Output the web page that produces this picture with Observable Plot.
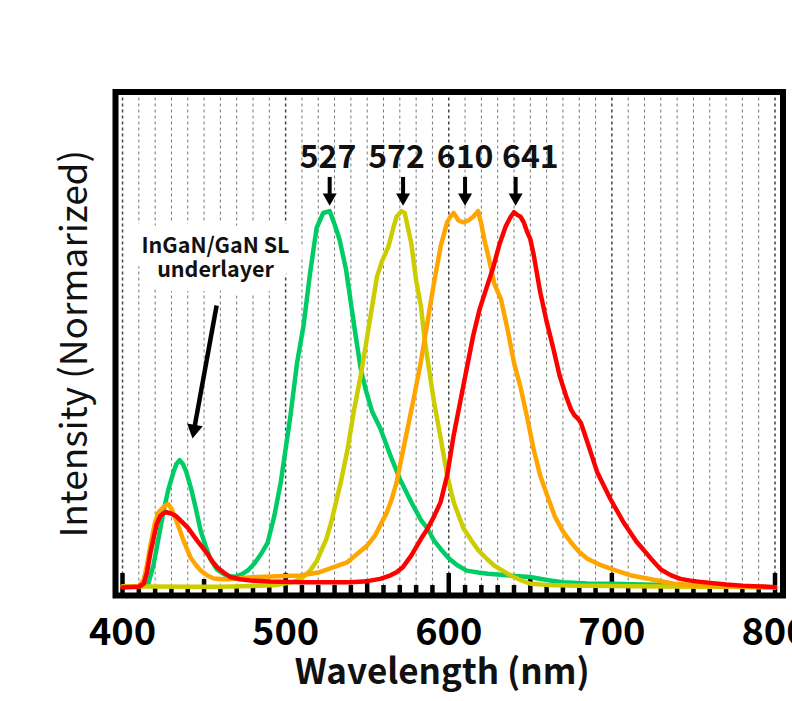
<!DOCTYPE html>
<html><head><meta charset="utf-8">
<script src="https://cdn.jsdelivr.net/npm/d3@7"></script>
<script src="https://cdn.jsdelivr.net/npm/@observablehq/plot@0.6"></script>
<style>
body{margin:0;background:#fff;}
</style></head><body><div id="chart"></div>
<script>
// Spectra: [wavelength nm, normalized intensity]
const green = [[400,0.003],[410,0.003],[414,0.005],[416,0.012],[419,0.06],[422,0.13],[425,0.2],[428,0.26],[431,0.305],[433,0.33],[435,0.34],[437,0.33],[439,0.31],[442,0.265],[445,0.21],[448,0.15],[451,0.11],[454,0.075],[458,0.048],[462,0.036],[466,0.03],[469,0.029],[473,0.035],[477,0.046],[481,0.065],[485,0.09],[489,0.12],[493,0.19],[497,0.28],[500,0.37],[503,0.46],[507,0.6],[511,0.7],[515,0.84],[519,0.96],[523,1.0],[527,1.005],[530,0.97],[533,0.93],[537,0.85],[540,0.76],[543,0.67],[546,0.585],[549,0.53],[553,0.47],[558,0.425],[564,0.355],[570,0.29],[577,0.228],[583,0.18],[587,0.157],[591,0.125],[595,0.103],[600,0.078],[605,0.06],[611,0.045],[618,0.04],[624,0.037],[632,0.034],[640,0.031],[650,0.028],[660,0.02],[670,0.014],[685,0.011],[700,0.01],[720,0.008],[740,0.006],[760,0.004],[780,0.002],[800,0.001]];
const yellow = [[400,0.003],[420,0.003],[440,0.002],[460,0.002],[480,0.004],[495,0.007],[505,0.015],[510,0.025],[515,0.045],[519,0.07],[522,0.1],[525,0.13],[528,0.175],[531,0.23],[534,0.285],[538,0.37],[542,0.475],[546,0.565],[550,0.67],[553,0.75],[556,0.83],[559,0.87],[563,0.91],[566,0.96],[568,0.99],[571,1.005],[573,1.0],[575,0.96],[577,0.92],[580,0.82],[583,0.75],[585,0.67],[588,0.58],[591,0.495],[595,0.4],[599,0.3],[603,0.228],[609,0.158],[614,0.125],[618,0.1],[623,0.078],[628,0.058],[633,0.045],[638,0.032],[645,0.018],[650,0.01],[660,0.007],[680,0.005],[700,0.004],[730,0.003],[760,0.002],[800,0.001]];
const orange = [[400,0.002],[410,0.004],[413,0.02],[415,0.06],[417,0.11],[420,0.175],[422,0.2],[424,0.21],[426,0.218],[428,0.223],[430,0.21],[432,0.19],[435,0.155],[437,0.13],[440,0.098],[442,0.078],[445,0.06],[448,0.045],[452,0.032],[456,0.024],[462,0.022],[468,0.023],[475,0.026],[483,0.028],[495,0.03],[509,0.032],[520,0.04],[530,0.055],[538,0.068],[544,0.09],[550,0.112],[555,0.14],[558,0.166],[562,0.2],[565,0.235],[568,0.28],[571,0.345],[575,0.43],[579,0.515],[583,0.605],[587,0.71],[591,0.815],[595,0.91],[599,0.975],[601,0.99],[603,1.0],[606,0.98],[609,0.975],[612,0.98],[615,0.99],[618,1.005],[620,0.97],[622,0.925],[624,0.89],[626,0.85],[628,0.81],[632,0.77],[636,0.69],[640,0.6],[644,0.535],[648,0.455],[652,0.37],[656,0.3],[660,0.25],[665,0.19],[670,0.15],[675,0.12],[680,0.095],[685,0.077],[692,0.062],[700,0.049],[712,0.032],[724,0.022],[738,0.01],[760,0.004],[780,0.002],[800,0.001]];
const red = [[400,0.0],[410,0.002],[413,0.01],[415,0.04],[417,0.09],[419,0.13],[421,0.17],[423,0.19],[425,0.198],[427,0.201],[430,0.197],[433,0.19],[436,0.177],[440,0.16],[443,0.142],[446,0.124],[449,0.107],[452,0.09],[455,0.07],[458,0.054],[462,0.04],[466,0.028],[472,0.022],[478,0.019],[490,0.016],[510,0.014],[540,0.014],[550,0.017],[558,0.023],[564,0.032],[568,0.041],[572,0.055],[577,0.085],[583,0.13],[587,0.157],[591,0.19],[595,0.228],[599,0.299],[603,0.406],[607,0.495],[611,0.584],[615,0.673],[619,0.744],[623,0.798],[627,0.851],[631,0.915],[635,0.965],[638,0.99],[640,1.002],[642,0.995],[644,0.99],[646,0.975],[648,0.95],[650,0.93],[652,0.89],[654,0.84],[656,0.79],[660,0.71],[664,0.64],[668,0.565],[672,0.51],[675,0.475],[677,0.46],[679,0.452],[681,0.44],[685,0.388],[691,0.308],[699,0.237],[707,0.175],[715,0.123],[724,0.077],[730,0.048],[736,0.033],[742,0.023],[750,0.017],[759,0.013],[770,0.008],[780,0.005],[790,0.003],[800,0.001]];

const seriesNames = ["527 nm", "572 nm", "610 nm", "641 nm"];
const seriesColors = ["#00cc66", "#cccc00", "#ffa500", "#ff0000"];

// Peak annotations
const peakLabels = ["527", "572", "610", "641"];
const peakNm = [527, 572, 610, 641];
const peakLabelNm = [526, 568, 610, 650];
const peakLabelLevel = 1.148;
const peakArrowTop = 1.095, peakArrowHead = 1.041;

// Underlayer annotation
const noteText = "InGaN/GaN SL\nunderlayer";
const noteNm = 457, noteLevel = 0.881;
const noteArrow = {x1: 457.7, y1: 0.753, x2: 443.9, y2: 0.422};

// Axis ticks
const tickLabels = [400, 500, 600, 700, 800];
const majorTicks = [400, 500, 600, 700, 800];
const midTicks = [450, 550, 650, 750];
const minorTicks = [410,420,430,440,460,470,480,490,510,520,530,540,560,570,580,590,610,620,630,640,660,670,680,690,710,720,730,740,760,770,780,790];
const gridTicks = [400,410,420,430,440,450,460,470,480,490,500,510,520,530,540,550,560,570,580,590,600,610,620,630,640,650,660,670,680,690,700,710,720,730,740,750,760,770,780,790,800];
const xTitle = "Wavelength (nm)";
const yTitle = "Intensity (Normarized)";

const rows = [];
[green, yellow, orange, red].forEach((arr, i) => arr.forEach(([nm, v]) => rows.push({nm, v, s: seriesNames[i]})));

const FONT = '"Noto Sans CJK JP", "Noto Sans", sans-serif';

const chart = Plot.plot({
  width: 792, height: 701,
  marginLeft: 115, marginRight: 9.5, marginTop: 91.5, marginBottom: 106,
  style: {fontFamily: FONT, background: "white"},
  x: {domain: [400, 800], insetLeft: 7, insetRight: 8, axis: null},
  y: {domain: [0, 1], insetTop: 121, insetBottom: 8, axis: null},
  color: {domain: seriesNames, range: seriesColors},
  marks: [
    Plot.ruleX(gridTicks, {x: d => d, stroke: d => d % 100 === 0 ? "#444" : "#777", strokeDasharray: "3 3", strokeWidth: d => d % 100 === 0 ? 1.5 : 1}),
    // white box behind the note (halo)
    Plot.text([noteText], {x: () => noteNm, y: () => noteLevel, fontSize: 21.5, fontWeight: "bold", fill: "white", stroke: "white", strokeWidth: 28, strokeLinejoin: "round", lineHeight: 1.1}),
    Plot.text([noteText], {x: () => noteNm, y: () => noteLevel, fontSize: 21.5, fontWeight: "bold", fill: "#111", lineHeight: 1.1}),
    Plot.link([noteArrow], {x1: "x1", y1: "y1", x2: "x2", y2: "y2", stroke: "black", strokeWidth: 4.5}),
    Plot.dot([noteArrow], {x: "x2", y: "y2", symbol: "triangle", r: 5.9, fill: "black", stroke: "none", rotate: 190}),
    Plot.axisX(minorTicks, {tickSize: -10, strokeWidth: 4.5, tickFormat: () => "", label: null}),
    Plot.axisX(midTicks, {tickSize: -16, strokeWidth: 4.5, tickFormat: () => "", label: null}),
    Plot.axisX(majorTicks, {tickSize: -22, strokeWidth: 4.5, tickFormat: () => "", label: null}),
    Plot.lineY(rows, {x: "nm", y: "v", z: "s", stroke: "s", strokeWidth: 4.5, strokeLinejoin: "round", strokeLinecap: "round"}),
    Plot.frame({stroke: "black", strokeWidth: 6}),
    Plot.axisX(tickLabels, {tickSize: 0, tickPadding: 23, fontSize: 38, fontWeight: "bold", label: null}),
    Plot.text([xTitle], {frameAnchor: "bottom", textAnchor: "middle", lineAnchor: "middle", dy: 77, dx: -7, fontSize: 35, fontWeight: "bold", fill: "#111"}),
    Plot.text([yTitle], {frameAnchor: "left", textAnchor: "middle", lineAnchor: "middle", dx: -40, rotate: -90, fontSize: 37, fill: "#111"}),
    Plot.text(peakLabels, {x: (d, i) => peakLabelNm[i], y: () => peakLabelLevel, fontSize: 32, fontWeight: "bold", fill: "#111"}),
    Plot.ruleX(peakNm, {x: d => d, y1: () => peakArrowTop, y2: () => peakArrowHead, stroke: "black", strokeWidth: 4}),
    Plot.dot(peakNm, {x: d => d, y: () => peakArrowHead, symbol: "triangle", r: 5.2, fill: "black", stroke: "none", rotate: 180})
  ]
});
document.getElementById("chart").append(chart);
</script></body></html>
